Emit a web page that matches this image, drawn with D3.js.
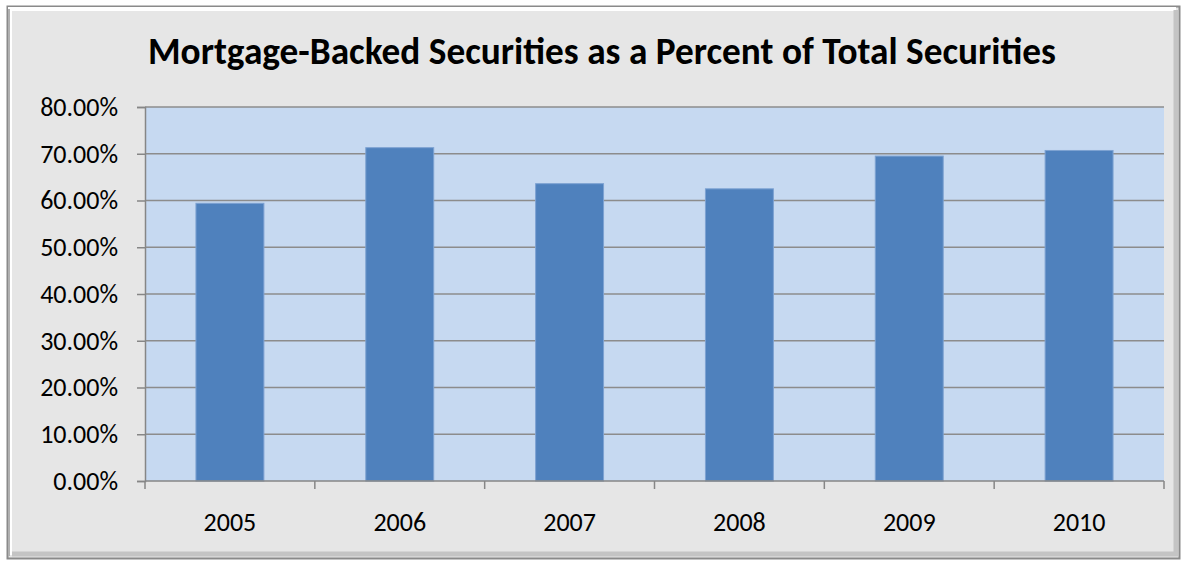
<!DOCTYPE html>
<html>
<head>
<meta charset="utf-8">
<script src="https://cdn.jsdelivr.net/npm/d3@7"></script>
<style>
  html, body { margin: 0; padding: 0; background: #fff; }
  svg { display: block; }
</style>
</head>
<body>
<div id="chart"></div>
<script>
const years = ['2005', '2006', '2007', '2008', '2009', '2010'];
const mbsShare = [0.594, 0.713, 0.636, 0.625, 0.695, 0.707];
const yTicks = [0, 0.1, 0.2, 0.3, 0.4, 0.5, 0.6, 0.7, 0.8];
const title = 'Mortgage-Backed Securities as a Percent of Total Securities';

const W = 1185, H = 564;
const plot = { left: 145, right: 1164, top: 107, bottom: 481 };
const font = 'Carlito, "Open Sans", "Liberation Sans", sans-serif';

const svg = d3.select('#chart')
  .append('svg')
  .attr('width', W)
  .attr('height', H);

// outer frame with a bevel look
svg.append('rect')
  .attr('x', 7.5).attr('y', 6.5)
  .attr('width', 1172).attr('height', 552)
  .attr('fill', '#e6e6e6')
  .attr('stroke', '#8a8a8a')
  .attr('stroke-width', 2);

svg.append('path')
  .attr('d', 'M10,555 L10,9 L1176,9')
  .attr('fill', 'none')
  .attr('stroke', '#ffffff')
  .attr('stroke-width', 4);
svg.append('path')
  .attr('d', 'M9,9 L9,556')
  .attr('fill', 'none')
  .attr('stroke', '#b0b0b0')
  .attr('stroke-width', 2);
svg.append('path')
  .attr('d', 'M12,554 L1176,554 L1176,10')
  .attr('fill', 'none')
  .attr('stroke', '#c4c4c4')
  .attr('stroke-width', 5);

const x = d3.scaleBand()
  .domain(years)
  .range([plot.left, plot.right])
  .paddingInner(0.6)
  .paddingOuter(0.3);

const y = d3.scaleLinear()
  .domain([0, 0.8])
  .range([plot.bottom, plot.top]);

// plot area
svg.append('rect')
  .attr('x', plot.left)
  .attr('y', plot.top)
  .attr('width', plot.right - plot.left)
  .attr('height', plot.bottom - plot.top)
  .attr('fill', '#c6d9f1');

// gridlines
svg.append('g')
  .selectAll('line')
  .data(yTicks.filter((d) => d > 0))
  .enter()
  .append('line')
    .attr('x1', plot.left)
    .attr('x2', plot.right)
    .attr('y1', (d) => y(d))
    .attr('y2', (d) => y(d))
    .attr('stroke', '#8c8c8c')
    .attr('stroke-width', 1.6);

// bars
svg.append('g')
  .selectAll('rect')
  .data(years.map((yr, i) => ({ yr, v: mbsShare[i] })))
  .enter()
  .append('rect')
    .attr('x', (d) => x(d.yr))
    .attr('y', (d) => y(d.v))
    .attr('width', x.bandwidth())
    .attr('height', (d) => y(0) - y(d.v))
    .attr('fill', '#4f81bd')
    .attr('stroke', '#7da2d2')
    .attr('stroke-width', 1);

// y axis
const yAxis = d3.axisLeft(y)
  .tickValues(yTicks)
  .tickSize(8)
  .tickPadding(19)
  .tickFormat((d) => (d * 100).toFixed(2) + '%');

const gy = svg.append('g')
  .attr('transform', `translate(${plot.left},0)`)
  .call(yAxis);
gy.select('.domain').attr('stroke', '#868686').attr('stroke-width', 1.5);
gy.selectAll('.tick line').attr('stroke', '#868686').attr('stroke-width', 1.5);
gy.selectAll('.tick text')
  .attr('fill', '#000')
  .style('font-family', font)
  .style('font-size', '26px');

// x axis, ticks between categories
const step = (plot.right - plot.left) / years.length;
const xEdges = d3.range(years.length + 1).map((i) => plot.left + i * step);

svg.append('line')
  .attr('x1', plot.left)
  .attr('x2', plot.right)
  .attr('y1', plot.bottom)
  .attr('y2', plot.bottom)
  .attr('stroke', '#868686')
  .attr('stroke-width', 1.5);

svg.append('g')
  .selectAll('line')
  .data(xEdges)
  .enter()
  .append('line')
    .attr('x1', (d) => d)
    .attr('x2', (d) => d)
    .attr('y1', plot.bottom)
    .attr('y2', plot.bottom + 8)
    .attr('stroke', '#868686')
    .attr('stroke-width', 1.5);

svg.append('g')
  .selectAll('text')
  .data(years)
  .enter()
  .append('text')
    .attr('x', (d) => x(d) + x.bandwidth() / 2)
    .attr('y', 531)
    .attr('text-anchor', 'middle')
    .style('font-family', font)
    .style('font-size', '26px')
    .text((d) => d);

// title
const t = svg.append('text')
  .attr('x', 602)
  .attr('y', 64)
  .attr('text-anchor', 'middle')
  .style('font-family', font)
  .style('font-weight', 'bold')
  .style('font-size', '28px')
  .text(title);

const tw = t.node().getComputedTextLength();
if (tw > 0) t.style('font-size', (28 * 908 / tw).toFixed(2) + 'px');
</script>
</body>
</html>
